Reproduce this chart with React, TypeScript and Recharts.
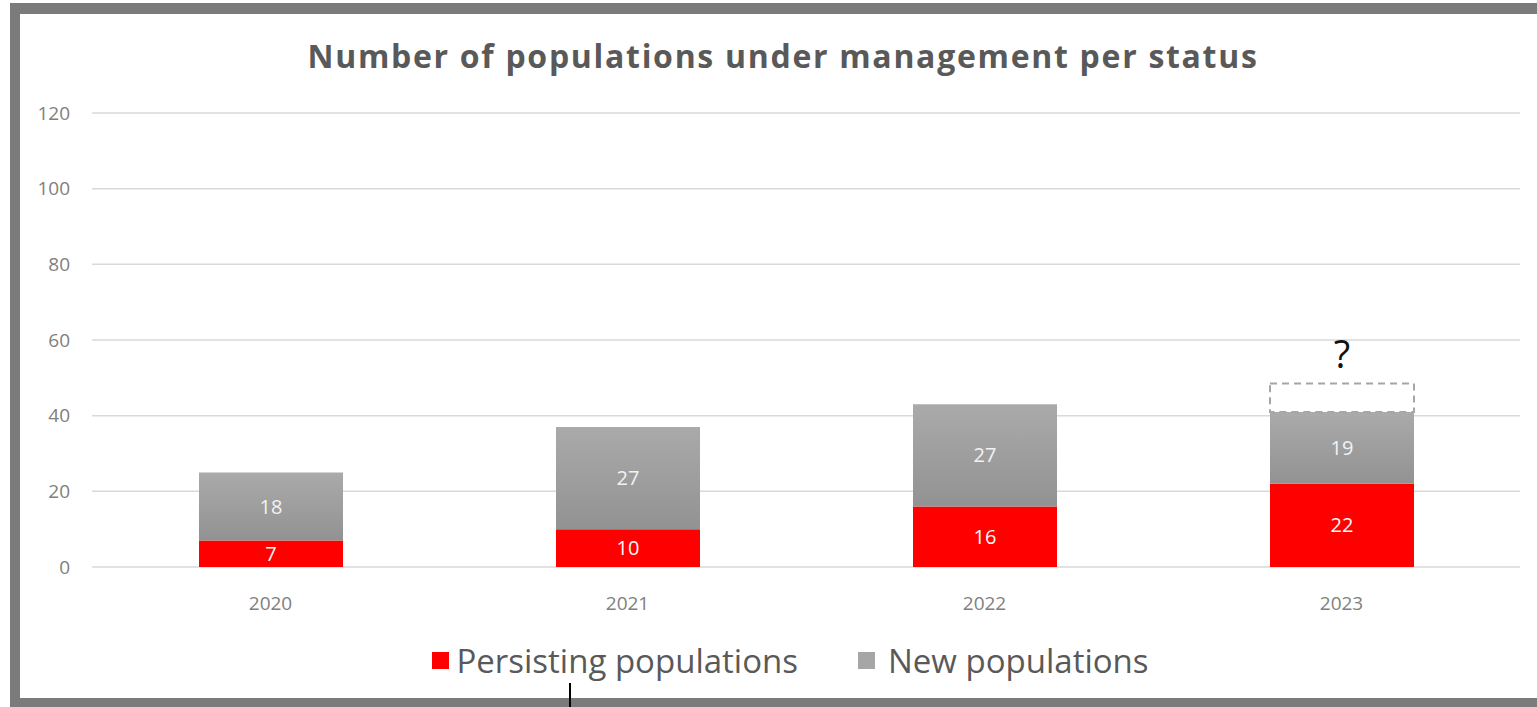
import React from 'react';
import { Bar, BarChart, CartesianGrid, LabelList, Legend, XAxis, YAxis } from 'recharts';

const years = ['2020', '2021', '2022', '2023'];
const persisting = [7, 10, 16, 22];
const newPops = [18, 27, 27, 19];
const unknown = [null, null, null, 7.5];
const yTicks = [0, 20, 40, 60, 80, 100, 120];

const data = years.map((year, i) => ({
  year,
  persisting: persisting[i],
  newPops: newPops[i],
  unknown: unknown[i],
}));

const FONT = '"Open Sans", Lato, sans-serif';

const LegendContent = () => (
  <div
    style={{
      height: 40,
      display: 'flex',
      alignItems: 'center',
      justifyContent: 'center',
      fontFamily: FONT,
      fontSize: 33,
      color: '#595959',
      paddingLeft: 61,
      boxSizing: 'border-box',
      whiteSpace: 'nowrap',
    }}
  >
    <span style={{ display: 'inline-block', width: 17, height: 17, background: '#ff0000', marginRight: 7 }} />
    <span>Persisting populations</span>
    <span style={{ display: 'inline-block', width: 17, height: 17, background: '#a6a6a6', marginLeft: 60, marginRight: 13 }} />
    <span>New populations</span>
  </div>
);

export default function App() {
  return (
    <div style={{ position: 'absolute', left: 0, top: 0, width: 1537, height: 707, overflow: 'hidden', background: '#fff' }}>
      <div
        style={{
          position: 'absolute',
          left: 10,
          top: 3,
          width: 1600,
          height: 705,
          boxSizing: 'border-box',
          borderTop: '11px solid #7b7b7b',
          borderLeft: '10px solid #7b7b7b',
          borderBottom: '10px solid #7b7b7b',
        }}
      />
      <div
        style={{
          position: 'absolute',
          left: 0,
          width: 1566,
          top: 34,
          textAlign: 'center',
          fontFamily: FONT,
          fontWeight: 'bold',
          fontSize: 32,
          letterSpacing: 1.7,
          color: '#595959',
          whiteSpace: 'nowrap',
        }}
      >
        Number of populations under management per status
      </div>
      <div style={{ position: 'absolute', left: 0, top: 0 }}>
        <BarChart
          width={1537}
          height={707}
          data={data}
          margin={{ top: 113, right: 17, bottom: 27, left: 0 }}
        >
          <defs>
            <linearGradient id="grayGrad" x1="0" y1="0" x2="0" y2="1">
              <stop offset="0%" stopColor="#aaaaaa" />
              <stop offset="100%" stopColor="#929292" />
            </linearGradient>
          </defs>
          <CartesianGrid vertical={false} stroke="#d9d9d9" strokeWidth={1.5} />
          <XAxis
            dataKey="year"
            axisLine={false}
            tickLine={false}
            tickSize={0}
            tickMargin={30}
            height={73}
            tick={{ fill: '#808080', fontSize: 19, fontFamily: FONT }}
          />
          <YAxis
            domain={[0, 120]}
            ticks={yTicks}
            axisLine={false}
            tickLine={false}
            tickSize={0}
            tickMargin={22}
            width={92}
            tick={{ fill: '#808080', fontSize: 19, fontFamily: FONT }}
          />
          <Legend verticalAlign="bottom" content={<LegendContent />} />
          <Bar dataKey="persisting" stackId="a" fill="#ff0000" barSize={144} isAnimationActive={false}>
            <LabelList dataKey="persisting" position="center" fill="#f7f7f7" fontSize={20} fontFamily={FONT} />
          </Bar>
          <Bar dataKey="newPops" stackId="a" fill="url(#grayGrad)" barSize={144} isAnimationActive={false}>
            <LabelList dataKey="newPops" position="center" fill="#f2f2f2" fontSize={20} fontFamily={FONT} />
          </Bar>
          <Bar
            dataKey="unknown"
            stackId="a"
            fill="none"
            stroke="#a6a6a6"
            strokeWidth={2}
            strokeDasharray="7 5"
            barSize={144}
            isAnimationActive={false}
          >
            <LabelList
              dataKey="unknown"
              position="top"
              offset={16}
              formatter={() => '?'}
              fill="#111111"
              fontSize={38}
              fontFamily={FONT}
            />
          </Bar>
        </BarChart>
      </div>
      <div style={{ position: 'absolute', left: 569, top: 683, width: 2, height: 24, background: '#000' }} />
    </div>
  );
}
